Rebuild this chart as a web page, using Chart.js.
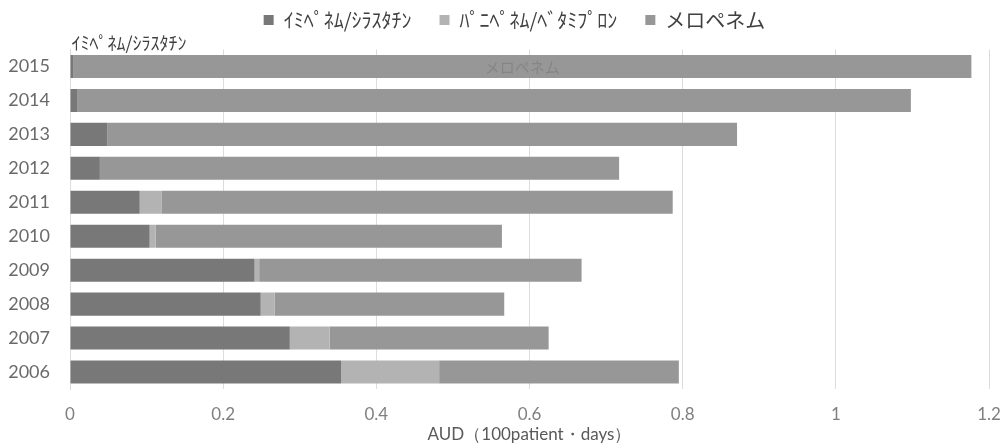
<!DOCTYPE html>
<html>
<head>
<meta charset="utf-8">
<script src="https://cdn.jsdelivr.net/npm/chart.js@4/dist/chart.umd.min.js"></script>
<style>
  html, body { margin: 0; padding: 0; background: #ffffff; }
  #wrap { width: 1004px; height: 445px; }
</style>
</head>
<body>
<div id="wrap"><canvas id="c" width="1004" height="445"></canvas></div>
<script>
// Years, top row first
const years = ['2015', '2014', '2013', '2012', '2011', '2010', '2009', '2008', '2007', '2006'];
// AUD per 100 patient-days, by drug
const imipenem  = [0.004, 0.010, 0.049, 0.039, 0.091, 0.104, 0.241, 0.249, 0.287, 0.354];
const panipenem = [0.000, 0.000, 0.000, 0.000, 0.029, 0.008, 0.006, 0.018, 0.052, 0.128];
const meropenem = [1.173, 1.088, 0.822, 0.678, 0.667, 0.452, 0.421, 0.300, 0.286, 0.313];
const seriesNames = ['ｲﾐﾍﾟﾈﾑ/ｼﾗｽﾀﾁﾝ', 'ﾊﾟﾆﾍﾟﾈﾑ/ﾍﾞﾀﾐﾌﾟﾛﾝ', 'メロペネム'];
const xTicks = [0, 0.2, 0.4, 0.6, 0.8, 1, 1.2];

const JP = '"Noto Sans CJK JP", sans-serif';
const NUM = 'Lato, "Open Sans", sans-serif';

// Legend row: fixed box height, and centred over the plot area rather than the canvas
const LEGEND_HEIGHT = 67.5;
const LEGEND_SHIFT = 20;
const legendTweak = {
  id: 'legendTweak',
  afterInit(chart) {
    const lg = chart.legend;
    if (!lg) return;
    const fit = lg.fit.bind(lg);
    lg.fit = function () { fit(); this.height = LEGEND_HEIGHT; };
    const draw = lg.draw.bind(lg);
    lg.draw = function () {
      const ctx = this.ctx;
      ctx.save();
      ctx.translate(LEGEND_SHIFT, 0);
      draw();
      ctx.restore();
    };
  }
};

// Series-name labels on the 2015 bar
const seriesNameLabels = {
  id: 'seriesNameLabels',
  afterDatasetsDraw(chart) {
    const ctx = chart.ctx;
    ctx.save();
    const imi = chart.getDatasetMeta(0).data[0];
    ctx.font = '18px ' + JP;
    ctx.fillStyle = '#404040';
    ctx.textAlign = 'left';
    ctx.textBaseline = 'bottom';
    ctx.fillText(seriesNames[0], imi.base + 1, imi.y - imi.height / 2 - 3);
    const mero = chart.getDatasetMeta(2).data[0];
    ctx.font = '15px ' + JP;
    ctx.fillStyle = '#858585';
    ctx.textAlign = 'center';
    ctx.textBaseline = 'middle';
    ctx.fillText(seriesNames[2], (mero.base + mero.x) / 2, mero.y + 1);
    ctx.restore();
  }
};

new Chart(document.getElementById('c'), {
  type: 'bar',
  data: {
    labels: years,
    datasets: [
      { label: seriesNames[0], data: imipenem,  backgroundColor: '#787878' },
      { label: seriesNames[1], data: panipenem, backgroundColor: '#b3b3b3' },
      { label: seriesNames[2], data: meropenem, backgroundColor: '#979797' }
    ]
  },
  options: {
    indexAxis: 'y',
    responsive: false,
    animation: false,
    devicePixelRatio: 1,
    layout: { padding: { top: -18, right: 15, left: 0, bottom: 0 } },
    datasets: { bar: { categoryPercentage: 1, barPercentage: 0.68, borderWidth: 0 } },
    plugins: {
      legend: {
        position: 'top',
        labels: {
          font: { family: JP, size: 20 },
          color: '#404040',
          boxWidth: 10,
          boxHeight: 10,
          padding: 28
        }
      },
      tooltip: { enabled: false }
    },
    scales: {
      x: {
        stacked: true,
        min: 0,
        max: 1.2,
        afterBuildTicks(scale) { scale.ticks = xTicks.map(v => ({ value: v })); },
        afterFit(scale) { scale.height = 56; },
        grid: { color: '#dcdcdc', drawTicks: true, tickLength: 14, tickColor: 'rgba(0,0,0,0)' },
        border: { display: false },
        ticks: {
          font: { family: NUM, size: 17 },
          color: '#808080',
          padding: 1,
          callback: v => String(v)
        },
        title: {
          display: true,
          text: 'AUD（100patient・days）',
          font: { family: NUM, size: 17 },
          color: '#595959',
          padding: { top: 0, bottom: 0 }
        }
      },
      y: {
        stacked: true,
        afterFit(scale) { scale.width = 70; },
        grid: { display: false, drawTicks: false },
        border: { display: true, color: '#dcdcdc' },
        ticks: {
          font: { family: NUM, size: 18 },
          color: '#6a6a6a',
          padding: 20
        }
      }
    }
  },
  plugins: [legendTweak, seriesNameLabels]
});
</script>
</body>
</html>
